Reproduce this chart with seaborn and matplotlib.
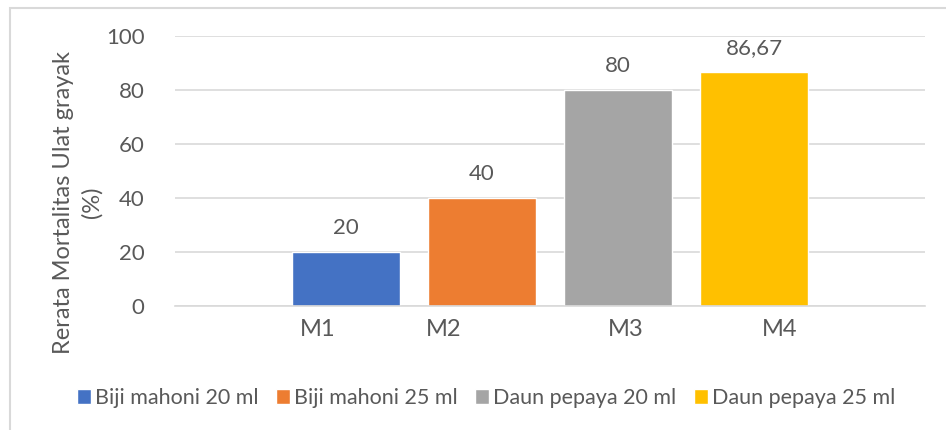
import numpy as np
import pandas as pd
import matplotlib
matplotlib.use("Agg")
import matplotlib.pyplot as plt
from matplotlib.patches import Rectangle
import seaborn as sns

# -----------------------------
# Data
# -----------------------------
categories = ["M1", "M2", "M3", "M4"]
series = ["Biji mahoni 20 ml", "Biji mahoni 25 ml", "Daun pepaya 20 ml", "Daun pepaya 25 ml"]
values = [20, 40, 80, 86.67]
value_labels = ["20", "40", "80", "86,67"]
yticks = [0, 20, 40, 60, 80, 100]
colors = ["#4472C4", "#ED7D31", "#A5A5A5", "#FFC000"]
# category labels sit a little off the bar centres in the original
label_shift = [-0.21, -0.28, 0.06, 0.19]

df = pd.DataFrame({"kategori": categories, "seri": series, "nilai": values})

# -----------------------------
# Style
# -----------------------------
sns.set_theme(style="white")
plt.rcParams["font.family"] = ["Lato", "DejaVu Sans"]
text_col = "#595959"

fig = plt.figure(figsize=(9.46, 4.30), dpi=100)
ax = fig.add_axes([175 / 946, 1 - 306 / 430, 750 / 946, 270 / 430])

sns.barplot(data=df, x="kategori", y="nilai", hue="seri", order=categories,
            hue_order=series, palette=colors, dodge=False, width=0.79,
            saturation=1, ax=ax, legend=True)

ax.set_ylim(0, 100)
ax.set_xlim(-1.257, 4.257)
ax.set_yticks(yticks)
ax.yaxis.grid(True, color="#d9d9d9", linewidth=1.2)
ax.set_axisbelow(True)
for s in ["top", "right", "left"]:
    ax.spines[s].set_visible(False)
ax.spines["bottom"].set_color("#d9d9d9")
ax.spines["bottom"].set_linewidth(1.2)

ax.set_xticks([i + d for i, d in enumerate(label_shift)])
ax.set_xticklabels(categories)
ax.tick_params(axis="x", length=0, pad=9, labelsize=17, labelcolor=text_col)
ax.tick_params(axis="y", length=0, pad=22, labelsize=16, labelcolor=text_col)
ax.set_xlabel("")
ax.set_ylabel("")

# value labels
for i, (v, t) in enumerate(zip(values, value_labels)):
    ax.annotate(t, (i, v), xytext=(0, 10), textcoords="offset points",
                ha="center", va="bottom", fontsize=16, color=text_col)

# y axis title
fig.text(78 / 946, 1 - 202 / 430, "Rerata Mortalitas Ulat grayak\n(%)", rotation=90,
         ha="center", va="center", fontsize=17, color=text_col, linespacing=1.4)

# legend
handles, labels = ax.get_legend_handles_labels()
ax.get_legend().remove()
fig.legend(handles, labels, loc="center", bbox_to_anchor=(486 / 946, 1 - 398 / 430),
           ncol=4, frameon=False, fontsize=15.5, handlelength=0.65, handleheight=0.65,
           handletextpad=0.2, columnspacing=0.8, labelcolor=text_col)

# chart area border
fig.patches.append(Rectangle((10 / 946, -0.1), 1.2, 1 - 8 / 430 + 0.1,
                             transform=fig.transFigure, fill=False,
                             edgecolor="#d9d9d9", linewidth=1.5))

fig.savefig("out.png", dpi=100)
